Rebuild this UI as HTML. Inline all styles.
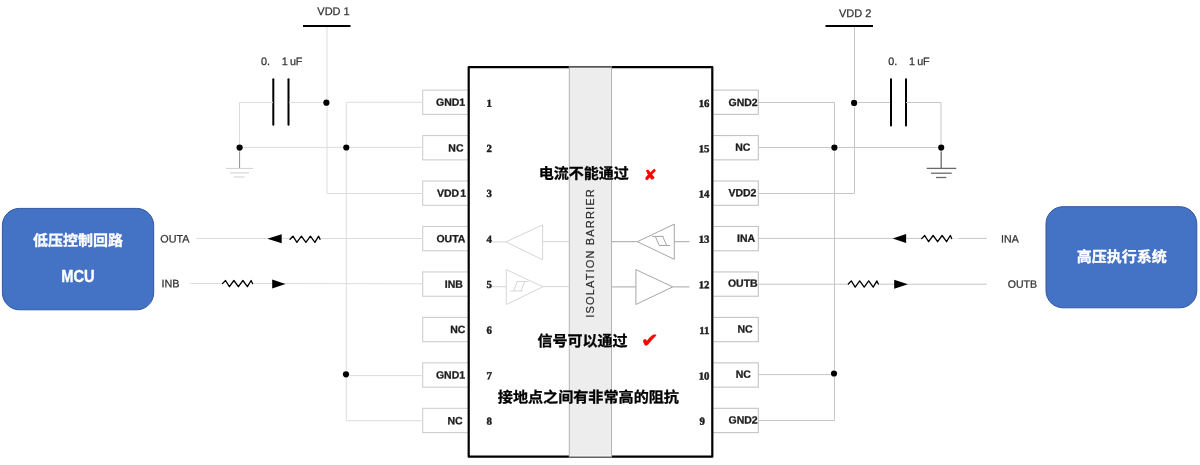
<!DOCTYPE html>
<html lang="zh-CN">
<head>
<meta charset="utf-8">
<title>Isolation diagram</title>
<style>
html,body{margin:0;padding:0;background:#fff;}
body{width:1200px;height:465px;overflow:hidden;}
svg{display:block;will-change:transform;}
</style>
</head>
<body>
<svg width="1200" height="465" viewBox="0 0 1200 465">
<rect width="1200" height="465" fill="#fff"/>
<g>
<rect x="422.7" y="90.1" width="46" height="24.3" fill="#fff" stroke="#cecece" stroke-width="1.1"/>
<rect x="712.3" y="90.1" width="46" height="24.3" fill="#fff" stroke="#c4c4c4" stroke-width="1.1"/>
<text x="465.2" y="105.8" transform="rotate(0.04 465.2 105.8)" font-family='"Liberation Sans", "Noto Sans CJK SC", sans-serif' font-size="10.5" font-weight="bold" fill="#1c1c1c" text-anchor="end" stroke="#1c1c1c" stroke-width="0.3">GND1</text>
<text x="757.7" y="106" transform="rotate(0.04 757.7 106)" font-family='"Liberation Sans", "Noto Sans CJK SC", sans-serif' font-size="10.5" font-weight="bold" fill="#1c1c1c" text-anchor="end" stroke="#1c1c1c" stroke-width="0.3">GND2</text>
<text x="486.6" y="106.8" transform="rotate(0.04 486.6 106.8)" font-family='"Liberation Serif", "Noto Serif CJK SC", serif' font-size="10.8" font-weight="bold" fill="#1c1c1c" text-anchor="start" stroke="#1c1c1c" stroke-width="0.45">1</text>
<text x="709.5" y="107" transform="rotate(0.04 709.5 107)" font-family='"Liberation Serif", "Noto Serif CJK SC", serif' font-size="10.8" font-weight="bold" fill="#1c1c1c" text-anchor="end" stroke="#1c1c1c" stroke-width="0.45">16</text>
<rect x="422.7" y="135.56" width="46" height="24.3" fill="#fff" stroke="#cecece" stroke-width="1.1"/>
<rect x="712.3" y="135.56" width="46" height="24.3" fill="#fff" stroke="#c4c4c4" stroke-width="1.1"/>
<text x="463.5" y="151.4" transform="rotate(0.04 463.5 151.4)" font-family='"Liberation Sans", "Noto Sans CJK SC", sans-serif' font-size="10.5" font-weight="bold" fill="#1c1c1c" text-anchor="end" stroke="#1c1c1c" stroke-width="0.3">NC</text>
<text x="750.4" y="150.7" transform="rotate(0.04 750.4 150.7)" font-family='"Liberation Sans", "Noto Sans CJK SC", sans-serif' font-size="10.5" font-weight="bold" fill="#1c1c1c" text-anchor="end" stroke="#1c1c1c" stroke-width="0.3">NC</text>
<text x="486.6" y="152.1" transform="rotate(0.04 486.6 152.1)" font-family='"Liberation Serif", "Noto Serif CJK SC", serif' font-size="10.8" font-weight="bold" fill="#1c1c1c" text-anchor="start" stroke="#1c1c1c" stroke-width="0.45">2</text>
<text x="709.5" y="152.2" transform="rotate(0.04 709.5 152.2)" font-family='"Liberation Serif", "Noto Serif CJK SC", serif' font-size="10.8" font-weight="bold" fill="#1c1c1c" text-anchor="end" stroke="#1c1c1c" stroke-width="0.45">15</text>
<rect x="422.7" y="181.02" width="46" height="24.3" fill="#fff" stroke="#cecece" stroke-width="1.1"/>
<rect x="712.3" y="181.02" width="46" height="24.3" fill="#fff" stroke="#c4c4c4" stroke-width="1.1"/>
<text x="466.2" y="196.8" transform="rotate(0.04 466.2 196.8)" font-family='"Liberation Sans", "Noto Sans CJK SC", sans-serif' font-size="10.5" font-weight="bold" fill="#1c1c1c" text-anchor="end" stroke="#1c1c1c" stroke-width="0.3">VDD<tspan dx="1.3">1</tspan></text>
<text x="756.4" y="196.2" transform="rotate(0.04 756.4 196.2)" font-family='"Liberation Sans", "Noto Sans CJK SC", sans-serif' font-size="10.5" font-weight="bold" fill="#1c1c1c" text-anchor="end" stroke="#1c1c1c" stroke-width="0.3">VDD2</text>
<text x="486.6" y="197" transform="rotate(0.04 486.6 197)" font-family='"Liberation Serif", "Noto Serif CJK SC", serif' font-size="10.8" font-weight="bold" fill="#1c1c1c" text-anchor="start" stroke="#1c1c1c" stroke-width="0.45">3</text>
<text x="709.5" y="197.5" transform="rotate(0.04 709.5 197.5)" font-family='"Liberation Serif", "Noto Serif CJK SC", serif' font-size="10.8" font-weight="bold" fill="#1c1c1c" text-anchor="end" stroke="#1c1c1c" stroke-width="0.45">14</text>
<rect x="422.7" y="226.48" width="46" height="24.3" fill="#fff" stroke="#cecece" stroke-width="1.1"/>
<rect x="712.3" y="226.48" width="46" height="24.3" fill="#fff" stroke="#c4c4c4" stroke-width="1.1"/>
<text x="465.4" y="242.3" transform="rotate(0.04 465.4 242.3)" font-family='"Liberation Sans", "Noto Sans CJK SC", sans-serif' font-size="10.5" font-weight="bold" fill="#1c1c1c" text-anchor="end" stroke="#1c1c1c" stroke-width="0.3">OUTA</text>
<text x="755.1" y="241.7" transform="rotate(0.04 755.1 241.7)" font-family='"Liberation Sans", "Noto Sans CJK SC", sans-serif' font-size="10.5" font-weight="bold" fill="#1c1c1c" text-anchor="end" stroke="#1c1c1c" stroke-width="0.3">INA</text>
<text x="486.6" y="242.8" transform="rotate(0.04 486.6 242.8)" font-family='"Liberation Serif", "Noto Serif CJK SC", serif' font-size="10.8" font-weight="bold" fill="#1c1c1c" text-anchor="start" stroke="#1c1c1c" stroke-width="0.45">4</text>
<text x="709.5" y="242.8" transform="rotate(0.04 709.5 242.8)" font-family='"Liberation Serif", "Noto Serif CJK SC", serif' font-size="10.8" font-weight="bold" fill="#1c1c1c" text-anchor="end" stroke="#1c1c1c" stroke-width="0.45">13</text>
<rect x="422.7" y="271.94" width="46" height="24.3" fill="#fff" stroke="#cecece" stroke-width="1.1"/>
<rect x="712.3" y="271.94" width="46" height="24.3" fill="#fff" stroke="#c4c4c4" stroke-width="1.1"/>
<text x="462.9" y="287.7" transform="rotate(0.04 462.9 287.7)" font-family='"Liberation Sans", "Noto Sans CJK SC", sans-serif' font-size="10.5" font-weight="bold" fill="#1c1c1c" text-anchor="end" stroke="#1c1c1c" stroke-width="0.3">INB</text>
<text x="757.7" y="286.8" transform="rotate(0.04 757.7 286.8)" font-family='"Liberation Sans", "Noto Sans CJK SC", sans-serif' font-size="10.5" font-weight="bold" fill="#1c1c1c" text-anchor="end" stroke="#1c1c1c" stroke-width="0.3">OUTB</text>
<text x="486.6" y="288" transform="rotate(0.04 486.6 288)" font-family='"Liberation Serif", "Noto Serif CJK SC", serif' font-size="10.8" font-weight="bold" fill="#1c1c1c" text-anchor="start" stroke="#1c1c1c" stroke-width="0.45">5</text>
<text x="709.5" y="288.3" transform="rotate(0.04 709.5 288.3)" font-family='"Liberation Serif", "Noto Serif CJK SC", serif' font-size="10.8" font-weight="bold" fill="#1c1c1c" text-anchor="end" stroke="#1c1c1c" stroke-width="0.45">12</text>
<rect x="422.7" y="317.4" width="46" height="24.3" fill="#fff" stroke="#cecece" stroke-width="1.1"/>
<rect x="712.3" y="317.4" width="46" height="24.3" fill="#fff" stroke="#c4c4c4" stroke-width="1.1"/>
<text x="465.4" y="333" transform="rotate(0.04 465.4 333)" font-family='"Liberation Sans", "Noto Sans CJK SC", sans-serif' font-size="10.5" font-weight="bold" fill="#1c1c1c" text-anchor="end" stroke="#1c1c1c" stroke-width="0.3">NC</text>
<text x="752.7" y="332.5" transform="rotate(0.04 752.7 332.5)" font-family='"Liberation Sans", "Noto Sans CJK SC", sans-serif' font-size="10.5" font-weight="bold" fill="#1c1c1c" text-anchor="end" stroke="#1c1c1c" stroke-width="0.3">NC</text>
<text x="486.6" y="333.8" transform="rotate(0.04 486.6 333.8)" font-family='"Liberation Serif", "Noto Serif CJK SC", serif' font-size="10.8" font-weight="bold" fill="#1c1c1c" text-anchor="start" stroke="#1c1c1c" stroke-width="0.45">6</text>
<text x="709.5" y="334" transform="rotate(0.04 709.5 334)" font-family='"Liberation Serif", "Noto Serif CJK SC", serif' font-size="10.8" font-weight="bold" fill="#1c1c1c" text-anchor="end" stroke="#1c1c1c" stroke-width="0.45">11</text>
<rect x="422.7" y="362.86" width="46" height="24.3" fill="#fff" stroke="#cecece" stroke-width="1.1"/>
<rect x="712.3" y="362.86" width="46" height="24.3" fill="#fff" stroke="#c4c4c4" stroke-width="1.1"/>
<text x="465.1" y="378.6" transform="rotate(0.04 465.1 378.6)" font-family='"Liberation Sans", "Noto Sans CJK SC", sans-serif' font-size="10.5" font-weight="bold" fill="#1c1c1c" text-anchor="end" stroke="#1c1c1c" stroke-width="0.3">GND1</text>
<text x="750.9" y="377.8" transform="rotate(0.04 750.9 377.8)" font-family='"Liberation Sans", "Noto Sans CJK SC", sans-serif' font-size="10.5" font-weight="bold" fill="#1c1c1c" text-anchor="end" stroke="#1c1c1c" stroke-width="0.3">NC</text>
<text x="486.6" y="379.2" transform="rotate(0.04 486.6 379.2)" font-family='"Liberation Serif", "Noto Serif CJK SC", serif' font-size="10.8" font-weight="bold" fill="#1c1c1c" text-anchor="start" stroke="#1c1c1c" stroke-width="0.45">7</text>
<text x="709.5" y="379.5" transform="rotate(0.04 709.5 379.5)" font-family='"Liberation Serif", "Noto Serif CJK SC", serif' font-size="10.8" font-weight="bold" fill="#1c1c1c" text-anchor="end" stroke="#1c1c1c" stroke-width="0.45">10</text>
<rect x="422.7" y="408.32" width="46" height="24.3" fill="#fff" stroke="#cecece" stroke-width="1.1"/>
<rect x="712.3" y="408.32" width="46" height="24.3" fill="#fff" stroke="#c4c4c4" stroke-width="1.1"/>
<text x="462.7" y="424.2" transform="rotate(0.04 462.7 424.2)" font-family='"Liberation Sans", "Noto Sans CJK SC", sans-serif' font-size="10.5" font-weight="bold" fill="#1c1c1c" text-anchor="end" stroke="#1c1c1c" stroke-width="0.3">NC</text>
<text x="757.7" y="423.5" transform="rotate(0.04 757.7 423.5)" font-family='"Liberation Sans", "Noto Sans CJK SC", sans-serif' font-size="10.5" font-weight="bold" fill="#1c1c1c" text-anchor="end" stroke="#1c1c1c" stroke-width="0.3">GND2</text>
<text x="486.6" y="424.8" transform="rotate(0.04 486.6 424.8)" font-family='"Liberation Serif", "Noto Serif CJK SC", serif' font-size="10.8" font-weight="bold" fill="#1c1c1c" text-anchor="start" stroke="#1c1c1c" stroke-width="0.45">8</text>
<text x="699.6" y="424.7" transform="rotate(0.04 699.6 424.7)" font-family='"Liberation Serif", "Noto Serif CJK SC", serif' font-size="10.8" font-weight="bold" fill="#1c1c1c" text-anchor="start" stroke="#1c1c1c" stroke-width="0.45">9</text>
<rect x="468.7" y="67.2" width="243.6" height="389.5" fill="none" stroke="#000" stroke-width="2.2" stroke-linejoin="round"/>
<rect x="569.2" y="66.7" width="42.3" height="390.5" fill="#ededed"/>
<line x1="569.3" y1="66.2" x2="569.3" y2="457.7" stroke="#b4b4b4" stroke-width="1" />
<line x1="611.5" y1="66.2" x2="611.5" y2="457.7" stroke="#b4b4b4" stroke-width="1" />
<line x1="569" y1="67.2" x2="612" y2="67.2" stroke="#606060" stroke-width="1.3" />
<line x1="569.8" y1="455.9" x2="611" y2="455.9" stroke="#f7f7f7" stroke-width="1" />
<line x1="569" y1="457" x2="612" y2="457" stroke="#646464" stroke-width="1.2" />
<line x1="303" y1="26" x2="350.5" y2="26" stroke="#000" stroke-width="2.2" />
<text x="317.3" y="15" transform="rotate(0.04 317.3 15)" font-family='"Liberation Sans", "Noto Sans CJK SC", sans-serif' font-size="11" font-weight="normal" fill="#333" text-anchor="start" stroke="#333" stroke-width="0.25">VDD 1</text>
<line x1="327" y1="27" x2="327" y2="193.5" stroke="#dcdcdc" stroke-width="1" />
<line x1="327" y1="193.5" x2="422.7" y2="193.5" stroke="#dcdcdc" stroke-width="1" />
<text x="261" y="65" transform="rotate(0.04 261 65)" font-family='"Liberation Sans", "Noto Sans CJK SC", sans-serif' font-size="10.8" font-weight="normal" fill="#333" text-anchor="start" stroke="#333" stroke-width="0.25">0.<tspan x="281.7" letter-spacing="-0.35">1 uF</tspan></text>
<line x1="273.3" y1="79.3" x2="273.3" y2="124.8" stroke="#000" stroke-width="2" stroke-linecap="round"/>
<line x1="288.5" y1="79.3" x2="288.5" y2="124.8" stroke="#000" stroke-width="2" stroke-linecap="round"/>
<line x1="239.5" y1="102.4" x2="273" y2="102.4" stroke="#dcdcdc" stroke-width="1" />
<line x1="289" y1="102.4" x2="327" y2="102.4" stroke="#dcdcdc" stroke-width="1" />
<line x1="239.5" y1="102.4" x2="239.5" y2="147.5" stroke="#dcdcdc" stroke-width="1" />
<line x1="239.5" y1="147.4" x2="422.7" y2="147.4" stroke="#dcdcdc" stroke-width="1" />
<line x1="239.6" y1="147.5" x2="239.6" y2="168.3" stroke="#909090" stroke-width="1" />
<line x1="226" y1="168.4" x2="253" y2="168.4" stroke="#cfcfcf" stroke-width="1" />
<line x1="230" y1="172.9" x2="249" y2="172.9" stroke="#cfcfcf" stroke-width="1" />
<line x1="234" y1="177" x2="244.5" y2="177" stroke="#cfcfcf" stroke-width="1" />
<line x1="346.3" y1="102.3" x2="422.7" y2="102.3" stroke="#dcdcdc" stroke-width="1" />
<line x1="346.3" y1="102.3" x2="346.3" y2="420.7" stroke="#dcdcdc" stroke-width="1" />
<line x1="346.3" y1="375.6" x2="422.7" y2="375.6" stroke="#dcdcdc" stroke-width="1" />
<line x1="346.3" y1="420.7" x2="422.7" y2="420.7" stroke="#dcdcdc" stroke-width="1" />
<line x1="825.5" y1="26" x2="873" y2="26" stroke="#000" stroke-width="2.2" />
<text x="839" y="17" transform="rotate(0.04 839 17)" font-family='"Liberation Sans", "Noto Sans CJK SC", sans-serif' font-size="11" font-weight="normal" fill="#333" text-anchor="start" stroke="#333" stroke-width="0.25">VDD 2</text>
<line x1="854.5" y1="27" x2="854.5" y2="193.5" stroke="#c6c6c6" stroke-width="1" />
<line x1="758.3" y1="193.5" x2="854.5" y2="193.5" stroke="#c6c6c6" stroke-width="1" />
<text x="888.3" y="65" transform="rotate(0.04 888.3 65)" font-family='"Liberation Sans", "Noto Sans CJK SC", sans-serif' font-size="10.8" font-weight="normal" fill="#333" text-anchor="start" stroke="#333" stroke-width="0.25">0.<tspan x="909" letter-spacing="-0.35">1 uF</tspan></text>
<line x1="891" y1="79.3" x2="891" y2="125.5" stroke="#000" stroke-width="2" stroke-linecap="round"/>
<line x1="906" y1="79.3" x2="906" y2="125.5" stroke="#000" stroke-width="2" stroke-linecap="round"/>
<line x1="854.5" y1="102.5" x2="890" y2="102.5" stroke="#c6c6c6" stroke-width="1" />
<line x1="906" y1="102.5" x2="941" y2="102.5" stroke="#c6c6c6" stroke-width="1" />
<line x1="941" y1="102.5" x2="941" y2="147.5" stroke="#c6c6c6" stroke-width="1" />
<line x1="758.3" y1="147.5" x2="941" y2="147.5" stroke="#c6c6c6" stroke-width="1" />
<line x1="941.2" y1="147.5" x2="941.2" y2="168.3" stroke="#6a6a6a" stroke-width="1.3" />
<line x1="926.7" y1="168.4" x2="956.3" y2="168.4" stroke="#6a6a6a" stroke-width="1.3" />
<line x1="931" y1="173.2" x2="951.7" y2="173.2" stroke="#6a6a6a" stroke-width="1.3" />
<line x1="936" y1="177.5" x2="946.3" y2="177.5" stroke="#6a6a6a" stroke-width="1.3" />
<line x1="758.3" y1="102.5" x2="834.5" y2="102.5" stroke="#c6c6c6" stroke-width="1" />
<line x1="834.5" y1="102.5" x2="834.5" y2="420.5" stroke="#c6c6c6" stroke-width="1" />
<line x1="758.3" y1="374.6" x2="834.5" y2="374.6" stroke="#c6c6c6" stroke-width="1" />
<line x1="758.3" y1="420.5" x2="834.5" y2="420.5" stroke="#c6c6c6" stroke-width="1" />
<circle cx="326.4" cy="102.7" r="3.8" fill="#fff"/>
<circle cx="326.4" cy="102.7" r="3.1" fill="#000"/>
<circle cx="239.6" cy="147.6" r="3.8" fill="#fff"/>
<circle cx="239.6" cy="147.6" r="3.1" fill="#000"/>
<circle cx="346.3" cy="147.5" r="3.8" fill="#fff"/>
<circle cx="346.3" cy="147.5" r="3.1" fill="#000"/>
<circle cx="346" cy="374.3" r="3.8" fill="#fff"/>
<circle cx="346" cy="374.3" r="3.1" fill="#000"/>
<circle cx="854.1" cy="102.9" r="3.8" fill="#fff"/>
<circle cx="854.1" cy="102.9" r="3.1" fill="#000"/>
<circle cx="941.2" cy="147.6" r="3.8" fill="#fff"/>
<circle cx="941.2" cy="147.6" r="3.1" fill="#000"/>
<circle cx="834.4" cy="147.6" r="3.8" fill="#fff"/>
<circle cx="834.4" cy="147.6" r="3.1" fill="#000"/>
<circle cx="834" cy="373.5" r="3.8" fill="#fff"/>
<circle cx="834" cy="373.5" r="3.1" fill="#000"/>
<line x1="195.9" y1="238.5" x2="290" y2="238.5" stroke="#dcdcdc" stroke-width="1" />
<line x1="320" y1="238.5" x2="422.7" y2="238.5" stroke="#dcdcdc" stroke-width="1" />
<polygon points="267.4,238.8 281.7,234.3 281.7,243.3" fill="#000"/>
<polyline fill="none" stroke="#000" stroke-width="1.3" stroke-linejoin="round" stroke-linecap="round" points="290,239.3 293,236.2 296.9,242.4 301.4,236.2 305.9,242.4 310.4,236.2 314.9,242.4 318.6,236.2 320,239.3"/>
<line x1="189.9" y1="283.5" x2="222.5" y2="283.5" stroke="#dcdcdc" stroke-width="1" />
<line x1="252.6" y1="283.5" x2="422.7" y2="283.8" stroke="#dcdcdc" stroke-width="1" />
<polyline fill="none" stroke="#000" stroke-width="1.3" stroke-linejoin="round" stroke-linecap="round" points="222.5,283.6 225.5,280.5 229.4,286.7 233.9,280.5 238.4,286.7 242.9,280.5 247.4,286.7 251.1,280.5 252.5,283.6"/>
<polygon points="285.5,284.1 272.2,279.6 272.2,288.6" fill="#000"/>
<line x1="758.3" y1="238.4" x2="921.7" y2="238.4" stroke="#c6c6c6" stroke-width="1" />
<line x1="959" y1="238.4" x2="986.8" y2="238.4" stroke="#c6c6c6" stroke-width="1" />
<line x1="951.6" y1="238.4" x2="959" y2="238.4" stroke="#ededed" stroke-width="1" />
<polygon points="892.7,238.5 906.1,234 906.1,243" fill="#000"/>
<polyline fill="none" stroke="#000" stroke-width="1.3" stroke-linejoin="round" stroke-linecap="round" points="921.7,238.6 924.7,235.5 928.6,241.7 933.1,235.5 937.6,241.7 942.1,235.5 946.6,241.7 950.3,235.5 951.7,238.6"/>
<line x1="758.3" y1="284.2" x2="848.3" y2="284.2" stroke="#c6c6c6" stroke-width="1" />
<line x1="878" y1="284.2" x2="986.8" y2="284.2" stroke="#c6c6c6" stroke-width="1" />
<polyline fill="none" stroke="#000" stroke-width="1.3" stroke-linejoin="round" stroke-linecap="round" points="848.3,284 851.3,280.9 855.2,287.1 859.7,280.9 864.2,287.1 868.7,280.9 873.2,287.1 876.9,280.9 878.3,284"/>
<polygon points="907.9,284.2 894.2,279.7 894.2,288.7" fill="#000"/>
<text x="160.3" y="242.6" transform="rotate(0.04 160.3 242.6)" font-family='"Liberation Sans", "Noto Sans CJK SC", sans-serif' font-size="10.8" font-weight="normal" fill="#333" text-anchor="start" stroke="#333" stroke-width="0.25">OUTA</text>
<text x="161.4" y="287.2" transform="rotate(0.04 161.4 287.2)" font-family='"Liberation Sans", "Noto Sans CJK SC", sans-serif' font-size="10.8" font-weight="normal" fill="#333" text-anchor="start" stroke="#333" stroke-width="0.25">INB</text>
<text x="1001.1" y="242.4" transform="rotate(0.04 1001.1 242.4)" font-family='"Liberation Sans", "Noto Sans CJK SC", sans-serif' font-size="10.6" font-weight="normal" fill="#333" text-anchor="start" stroke="#333" stroke-width="0.25">INA</text>
<text x="1007.7" y="287.8" transform="rotate(0.04 1007.7 287.8)" font-family='"Liberation Sans", "Noto Sans CJK SC", sans-serif' font-size="10.6" font-weight="normal" fill="#333" text-anchor="start" stroke="#333" stroke-width="0.25">OUTB</text>
<line x1="492" y1="241.9" x2="506" y2="241.9" stroke="#d6d6d6" stroke-width="1" />
<line x1="542.6" y1="241.7" x2="569" y2="241.7" stroke="#d6d6d6" stroke-width="1" />
<polygon points="542.6,224.9 542.6,259.8 506,241.9" fill="none" stroke="#d6d6d6" stroke-width="1" stroke-linejoin="miter"/>
<line x1="492" y1="286.7" x2="506.3" y2="286.7" stroke="#d6d6d6" stroke-width="1" />
<line x1="542.9" y1="286.6" x2="569" y2="286.6" stroke="#d6d6d6" stroke-width="1" />
<polygon points="506.3,269.6 506.3,304.5 542.9,286.8" fill="none" stroke="#d6d6d6" stroke-width="1" stroke-linejoin="miter"/>
<path d="M510.2,290.9 H522.6 M516.9,281.6 H528.6 M513.5,290.9 L517.3,281.6 M521,290.9 L524.8,281.6" fill="none" stroke="#d6d6d6" stroke-width="1"/>
<line x1="612" y1="241.7" x2="637.3" y2="241.7" stroke="#a6a6a6" stroke-width="1" />
<line x1="674.3" y1="241.7" x2="689.5" y2="241.7" stroke="#a6a6a6" stroke-width="1" />
<polygon points="674.3,224.1 674.3,259.3 637.3,241.7" fill="none" stroke="#a6a6a6" stroke-width="1" stroke-linejoin="miter"/>
<path d="M652,236.4 H663.5 M659,245.5 H670 M655.3,236.4 L659.3,245.5 M662.7,236.4 L666.7,245.5" fill="none" stroke="#a6a6a6" stroke-width="1"/>
<line x1="612" y1="286.9" x2="635.9" y2="286.9" stroke="#a6a6a6" stroke-width="1" />
<line x1="672.8" y1="286.9" x2="689.5" y2="286.9" stroke="#a6a6a6" stroke-width="1" />
<polygon points="635.9,269.6 635.9,304.5 672.8,286.9" fill="none" stroke="#a6a6a6" stroke-width="1" stroke-linejoin="miter"/>
<text transform="translate(593.7,317.8) rotate(-90)" font-family='"Liberation Sans", "Noto Sans CJK SC", sans-serif' font-size="11" fill="#2e2e2e" stroke="#2e2e2e" stroke-width="0.2" letter-spacing="1.17">ISOLATION BARRIER</text>
<text x="538.7" y="178.7" transform="rotate(0.04 538.7 178.7)" font-family='"Liberation Sans", "Noto Sans CJK SC", sans-serif' font-size="15" font-weight="bold" fill="#000" text-anchor="start" stroke="#000" stroke-width="0.3">电流不能通过</text>
<text x="537.4" y="346.3" transform="rotate(0.04 537.4 346.3)" font-family='"Liberation Sans", "Noto Sans CJK SC", sans-serif' font-size="15" font-weight="bold" fill="#000" text-anchor="start" stroke="#000" stroke-width="0.3">信号可以通过</text>
<text x="497.8" y="402.4" transform="rotate(0.04 497.8 402.4)" font-family='"Liberation Sans", "Noto Sans CJK SC", sans-serif' font-size="15.1" font-weight="bold" fill="#000" text-anchor="start" stroke="#000" stroke-width="0.3">接地点之间有非常高的阻抗</text>
<text transform="translate(643.8,180) scale(1.06,1)" font-family='"DejaVu Sans", "Liberation Sans", sans-serif' font-size="14.8" fill="#ff0000" stroke="#ff0000" stroke-width="0.5">✘</text>
<text transform="translate(641,347.1) scale(1.1,1)" font-family='"DejaVu Sans", "Liberation Sans", sans-serif' font-size="19" fill="#ff0000" stroke="#ff0000" stroke-width="0.5">✔</text>
<rect x="2.4" y="208.4" width="151.3" height="101.4" rx="17" ry="17" fill="#4472c4" stroke="#31579f" stroke-width="1"/>
<rect x="1046" y="206.7" width="150.8" height="101.1" rx="17" ry="17" fill="#4472c4" stroke="#31579f" stroke-width="1"/>
<text x="78.1" y="245.8" transform="rotate(0.04 78.1 245.8)" font-family='"Liberation Sans", "Noto Sans CJK SC", sans-serif' font-size="15" font-weight="bold" fill="#fff" text-anchor="middle" stroke="#fff" stroke-width="0.3">低压控制回路</text>
<text transform="translate(78,282.1) scale(1,1.14)" font-family='"Liberation Sans", "Noto Sans CJK SC", sans-serif' font-size="14.7" font-weight="bold" fill="#fff" stroke="#fff" stroke-width="0.3" text-anchor="middle">MCU</text>
<text x="1121.8" y="262.1" transform="rotate(0.04 1121.8 262.1)" font-family='"Liberation Sans", "Noto Sans CJK SC", sans-serif' font-size="15" font-weight="bold" fill="#fff" text-anchor="middle" stroke="#fff" stroke-width="0.3">高压执行系统</text>
</g>
</svg>
</body>
</html>
